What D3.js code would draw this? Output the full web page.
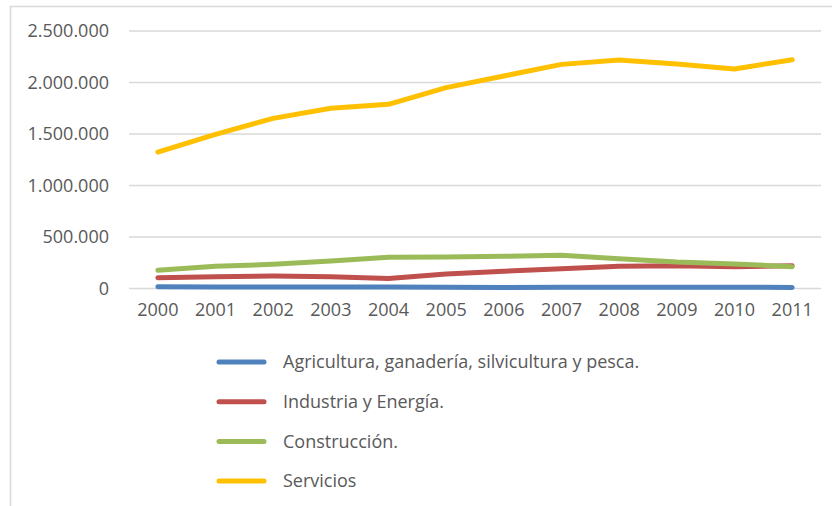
<!DOCTYPE html>
<html><head><meta charset="utf-8">
<script src="https://cdn.jsdelivr.net/npm/d3@7"></script>
<style>html,body{margin:0;background:#fff;overflow:hidden}svg{display:block}</style>
</head><body>
<script>
const years = ["2000","2001","2002","2003","2004","2005","2006","2007","2008","2009","2010","2011"];
const agricultura = [18000,14000,15000,15000,14000,12000,10000,12000,13000,13000,13000,10000];
const industria = [105000,115000,121000,115000,97000,141000,167000,192000,215000,221000,212000,221000];
const construccion = [177000,215000,235000,267000,303000,306000,313000,322000,289000,257000,238000,212000];
const servicios = [1325000,1497000,1652000,1750000,1788000,1950000,2063000,2176000,2218000,2180000,2131000,2221000];
const yTicks = [0,500000,1000000,1500000,2000000,2500000];
const seriesNames = ["Agricultura, ganadería, silvicultura y pesca.","Industria y Energía.","Construcción.","Servicios"];
const seriesColors = ["#4f81bd","#c0504d","#9bbb59","#ffc000"];
const seriesData = [agricultura, industria, construccion, servicios];

const W = 832, H = 506;
const svg = d3.select("body").append("svg").attr("width", W).attr("height", H);
const font = "'Open Sans', sans-serif";

// chart border (only top and left visible in the crop)
svg.append("path").attr("d", "M10.5,506V6.5H832")
  .attr("fill", "none").attr("stroke", "#d9d9d9").attr("stroke-width", 1.5);

const x = d3.scaleBand().domain(years).range([129, 821]);
const y = d3.scaleLinear().domain([0, 2500000]).range([288.5, 31]);

const fmt = v => d3.format(",")(v).replace(/,/g, ".");

// gridlines
svg.append("g").selectAll("line").data(yTicks).join("line")
  .attr("x1", 129).attr("x2", 821)
  .attr("y1", d => y(d)).attr("y2", d => y(d))
  .attr("stroke", "#d9d9d9").attr("stroke-width", 1.5);

// y axis labels
const yAxis = d3.axisLeft(y).tickValues(yTicks).tickFormat(fmt).tickSize(0).tickPadding(0);
const gy = svg.append("g").attr("transform", "translate(109,0)").call(yAxis);
gy.select(".domain").remove();
gy.selectAll("text").attr("font-family", font).attr("font-size", 18).attr("fill", "#595959");

// x axis labels
const xAxis = d3.axisBottom(x).tickSize(0).tickPadding(0);
const gx = svg.append("g").attr("transform", "translate(0,303)").call(xAxis);
gx.select(".domain").remove();
gx.selectAll("text").attr("font-family", font).attr("font-size", 18).attr("fill", "#595959");

// lines
const line = d3.line().x((d, i) => x(years[i]) + x.bandwidth() / 2).y(d => y(d));
seriesData.forEach((s, k) => {
  svg.append("path").datum(s).attr("d", line)
    .attr("fill", "none").attr("stroke", seriesColors[k]).attr("stroke-width", 5)
    .attr("stroke-linecap", "round").attr("stroke-linejoin", "round");
});

// legend
const lg = svg.append("g");
seriesNames.forEach((n, k) => {
  const ly = 362 + k * 39.7;
  lg.append("line").attr("x1", 219).attr("x2", 264).attr("y1", ly).attr("y2", ly)
    .attr("stroke", seriesColors[k]).attr("stroke-width", 5).attr("stroke-linecap", "round");
  lg.append("text").attr("x", 283).attr("y", ly).attr("dy", "0.35em")
    .attr("font-family", font).attr("font-size", 18).attr("fill", "#595959").text(n);
});
</script>
</body></html>
